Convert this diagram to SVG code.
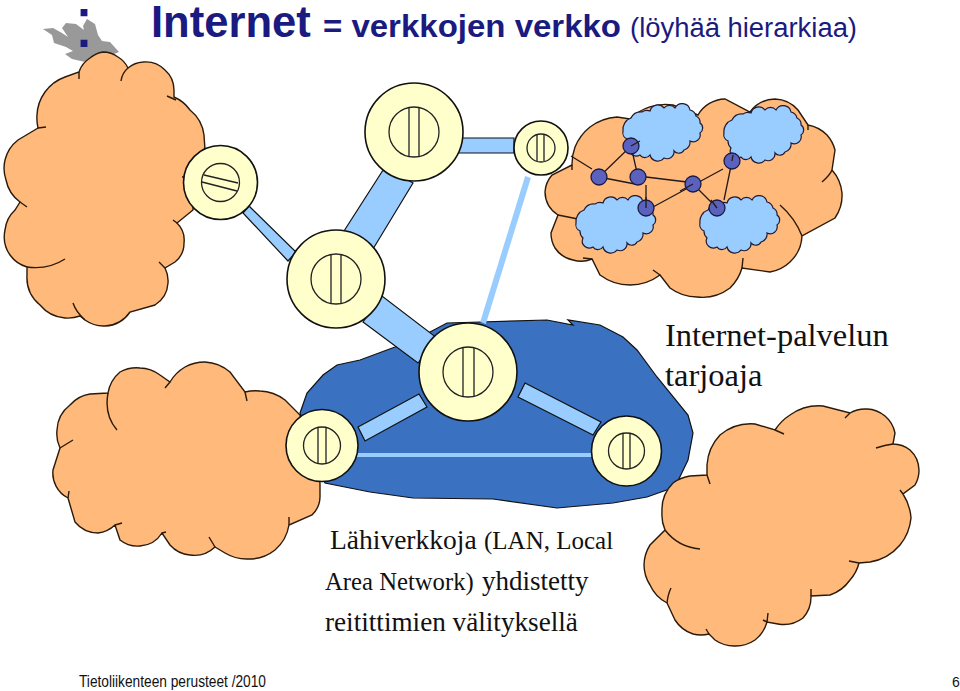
<svg xmlns="http://www.w3.org/2000/svg" width="960" height="691" viewBox="0 0 960 691">
<style>
.cloud{fill:#ffb97a;stroke:#2a1a0a;stroke-width:1.4}
.edge{fill:none;stroke:#2a1a0a;stroke-width:1.4}
.r{fill:#ffffcc;stroke:#111;stroke-width:1.6}
.ri{fill:#ffffcc;stroke:#222;stroke-width:1.3}
.bar{stroke:#222;stroke-width:1.3;fill:none}
.link{fill:#99ccff;stroke:#111;stroke-width:1.2}
.thin{stroke:#99ccff;fill:none}
.blue{fill:#99ccff;stroke:#221a33;stroke-width:1.2}
.dot{fill:#5a62bd;stroke:#1a1a44;stroke-width:1.3}
.net{stroke:#221a1a;stroke-width:1.3;fill:none}
.title{font-family:"Liberation Sans",Arial,sans-serif;fill:#1a1a80}
.label{font-family:"Liberation Serif","Times New Roman",serif;fill:#111}
.foot{font-family:"Liberation Sans",Arial,sans-serif;fill:#111}
</style>
<defs>
<path id="bc" d="M-39,-2 A12,12 0 0 1 -31,-15 A11,11 0 0 1 -20,-21 A9,9 0 0 1 -12,-22 A8,8 0 0 1 2,-25 A7,7 0 0 1 13,-25 A8,8 0 0 1 28,-23 A8,8 0 0 1 34,-17 A7,7 0 0 1 38,-10 A6,6 0 0 1 38,0 A7,7 0 0 1 28,8 A8,8 0 0 1 22,17 A6,6 0 0 1 12,18 A7,7 0 0 1 2,25 A8,8 0 0 1 -12,22 A6,6 0 0 1 -22,22 A7,7 0 0 1 -32,13 A9,9 0 0 1 -35,6 A7,7 0 0 1 -39,-2 Z"/>
</defs>
<rect width="960" height="691" fill="#fff"/>
<g id="logo">
<polygon fill="#999" points="43,29 53,28 62,33 68,37 62,28 66,23 76,24 84,30 83,26 87,19 95,24 98,35 102,41 110,42 119,52 100,60 85,62 72,59 65,54 73,51 66,47 54,43 52,35"/>
</g>
<text class="title" x="74" y="47" font-size="72">:</text>
<text class="title" x="151" y="37" font-size="43.6" font-weight="700">Internet</text>
<text class="title" x="323" y="37" font-size="31" font-weight="700" textLength="298" lengthAdjust="spacingAndGlyphs">= verkkojen verkko</text>
<text class="title" x="630" y="37" font-size="27" textLength="227" lengthAdjust="spacingAndGlyphs">(löyhää hierarkiaa)</text>

<g id="cloud-left-top">
<path class="cloud" d="M79,72 A26,26 0 0 1 90,58 A26,26 0 0 1 103,52 A26,26 0 0 1 118,57 A26,26 0 0 1 128,68 A27,27 0 0 1 143,62 A27,27 0 0 1 165,70 A27,27 0 0 1 174,90 L174,97 A38,38 0 0 1 190,110 A38,38 0 0 1 204,135 L205,150 A40,40 0 0 1 193,177 L193,210 L177,223 A24,24 0 0 1 184,243 A24,24 0 0 1 175,262 L165,268 A28,28 0 0 1 168,283 A28,28 0 0 1 155,305 L130,312 A32,32 0 0 1 105,326 A32,32 0 0 1 85,320 L80,316 A36,36 0 0 1 65,318 A36,36 0 0 1 40,305 A36,36 0 0 1 27,275 L27,267 A32,32 0 0 1 10,255 A32,32 0 0 1 5,230 A32,32 0 0 1 15,210 L20,202 A36,36 0 0 1 6,180 A36,36 0 0 1 5,160 A36,36 0 0 1 18,140 L38,128 A42,42 0 0 1 37,115 A42,42 0 0 1 45,92 A42,42 0 0 1 65,77 Z"/>
<path class="edge" d="M79,72 L79,79 M128,68 Q122,73 121,81 M167,96 L176,100 M193,177 L182,177 M177,223 L173,220 M159,262 L165,268 M73,303 Q76,312 85,320 M27,267 Q48,270 65,259 M20,202 L27,207 M38,128 L46,127"/>
</g>

<g id="cloud-left-bottom">
<path class="cloud" d="M60,448 A33,33 0 0 1 57,430 A33,33 0 0 1 70,405 A33,33 0 0 1 90,394 L108,393 A35,35 0 0 1 120,372 A35,35 0 0 1 140,368 A35,35 0 0 1 160,375 L170,382 A42,42 0 0 1 185,367 A42,42 0 0 1 205,362 A42,42 0 0 1 230,372 L245,392 A44,44 0 0 1 260,391 A44,44 0 0 1 285,400 L300,415 L320,483 L320,497 A26,26 0 0 1 312,515 L289,525 A42,42 0 0 1 275,550 A42,42 0 0 1 247,559 A42,42 0 0 1 225,553 L215,547 A30,30 0 0 1 190,555 A30,30 0 0 1 170,545 L162,533 A28,28 0 0 1 140,546 A28,28 0 0 1 120,540 L115,525 A30,30 0 0 1 98,533 A30,30 0 0 1 75,522 L68,498 A28,28 0 0 1 53,470 Z"/>
<path class="edge" d="M60,448 L73,440 M108,393 Q104,415 117,430 M170,382 L165,388 M245,392 L247,401 M289,525 L289,517 M209,537 L215,547 M162,533 L166,532 M115,525 L122,523 M68,498 L69,491"/>
</g>

<g id="lan">
<polygon fill="#3a72c1" stroke="#111" stroke-width="1.2" points="300,413 307,393 323,375 337,365 360,360 395,347 430,332 447,323 480,322 547,320 573,325 568,320 600,325 623,337 637,350 657,377 688,415 693,433 688,460 675,487 647,497 613,503 557,508 493,499 413,498 370,492 325,483"/>
</g>

<g id="cloud-right-bottom">
<path class="cloud" d="M707,475 L707,465 A48,48 0 0 1 720,435 A48,48 0 0 1 755,424 L775,430 A50,50 0 0 1 790,415 A50,50 0 0 1 823,406 L850,413 A30,30 0 0 1 867,409 A30,30 0 0 1 885,416 A30,30 0 0 1 895,433 L893,444 A28,28 0 0 1 910,450 A28,28 0 0 1 919,470 A28,28 0 0 1 915,485 L903,494 A50,50 0 0 1 911,518 A50,50 0 0 1 900,545 A50,50 0 0 1 870,562 L859,563 A40,40 0 0 1 850,580 A40,40 0 0 1 830,595 L811,596 A32,32 0 0 1 803,618 A32,32 0 0 1 778,624 L767,622 A34,34 0 0 1 755,640 A34,34 0 0 1 735,646 A34,34 0 0 1 715,640 L709,634 A34,34 0 0 1 693,634 A34,34 0 0 1 675,620 L667,603 A38,38 0 0 1 650,585 A38,38 0 0 1 644,565 A38,38 0 0 1 650,545 L665,530 A38,38 0 0 1 662,512 A38,38 0 0 1 673,483 A38,38 0 0 1 690,476 Z"/>
<path class="edge" d="M707,475 L710,484 M775,430 L784,434 M850,413 L845,418 M893,444 Q885,445 876,448 M903,494 L900,490 M859,563 L849,561 M811,596 L811,589 M767,622 L763,620 M767,622 L768,613 M706,629 L709,634 M667,603 Q668,594 671,588 M665,530 Q678,547 700,549"/>
</g>

<g id="cloud-right-top">
<path class="cloud" d="M572,165 A50,50 0 0 1 575,147 A50,50 0 0 1 590,127 A50,50 0 0 1 617,117 L630,119 A50,50 0 0 1 673,105 L698,115 A32,32 0 0 1 725,99 L750,112 A32,32 0 0 1 775,99 A32,32 0 0 1 798,110 L808,125 A36,36 0 0 1 827,135 A36,36 0 0 1 835,150 L832,170 A40,40 0 0 1 842,193 A40,40 0 0 1 835,218 L802,236 A38,38 0 0 1 790,262 A38,38 0 0 1 770,272 L742,268 A46,46 0 0 1 730,288 A46,46 0 0 1 697,297 A46,46 0 0 1 670,288 L660,275 A50,50 0 0 1 630,285 A50,50 0 0 1 600,275 L592,259 A28,28 0 0 1 573,260 A28,28 0 0 1 555,248 A28,28 0 0 1 551,233 L558,215 A28,28 0 0 1 545,192 A28,28 0 0 1 552,175 Z"/>
<path class="edge" d="M572,165 L572,170 M808,125 L808,130 M750,112 L747,113 M832,170 Q830,175 822,182 M802,236 Q795,218 780,205 M742,268 L743,258 M660,275 L653,270 M583,258 L592,259 M558,215 L578,219"/>
<use href="#bc" class="blue" x="662" y="133"/>
<use href="#bc" class="blue" x="763" y="135"/>
<use href="#bc" class="blue" x="615" y="225"/>
<use href="#bc" class="blue" x="739" y="225"/>
<path class="net" d="M571,156 L592,169 M599,177 L631,146 L638,177 M599,177 L635,184 M646,177 L687,182 M646,185 L646,208 M653,207 L723,169 M693,184 L717,208 M732,161 L724,200"/>
<circle class="dot" cx="631" cy="146" r="8"/>
<circle class="dot" cx="599" cy="177" r="8"/>
<circle class="dot" cx="638" cy="177" r="8"/>
<circle class="dot" cx="693" cy="184" r="8"/>
<circle class="dot" cx="732" cy="161" r="8"/>
<circle class="dot" cx="646" cy="208" r="8"/>
<circle class="dot" cx="717" cy="208" r="8"/>
<path class="net" d="M631,146 L640,141 M693,184 L680,191 M646,208 L646,197 M732,161 L733,155 M717,208 L711,200"/>
</g>

<g id="connectors">
<polygon class="link" points="243,213 249,206 296,252 288,261"/>
<polygon class="link" points="385,167 413,183 373,249 344,231"/>
<polygon class="link" points="458,138 514,138 514,153 458,153"/>
<polygon class="link" points="363,322 418,363 437,338 382,296"/>
<polygon class="link" points="358,427 419,394 427,407 365,441"/>
<polygon class="link" points="525,383 601,422 593,435 518,397"/>
<line class="thin" x1="357" y1="455" x2="592" y2="455" stroke-width="4"/>
<line class="thin" x1="528" y1="177" x2="483" y2="323" stroke-width="6"/>
</g>

<g id="router-1"><circle class="r" cx="220.500" cy="182.500" r="37"/><circle class="ri" cx="220.500" cy="182.500" r="19"/><path class="bar" d="M204,175 L238,183 M202,182 L237,191"/></g>
<g id="router-2"><circle class="r" cx="414" cy="132" r="49"/><circle class="ri" cx="414" cy="132" r="25"/><path class="bar" d="M409,108 V157 M419,108 V157"/></g>
<g id="router-3"><circle class="r" cx="541" cy="148" r="27"/><circle class="ri" cx="541" cy="148" r="14"/><path class="bar" d="M537,135 V161 M544,135 V161"/></g>
<g id="router-4"><circle class="r" cx="336" cy="279" r="49"/><circle class="ri" cx="336" cy="279" r="25"/><path class="bar" d="M331,255 V303 M341,255 V303"/></g>
<g id="router-5"><circle class="r" cx="468" cy="372" r="49"/><circle class="ri" cx="468" cy="372" r="25"/><path class="bar" d="M463,348 V397 M474,348 V397"/></g>
<g id="router-6"><circle class="r" cx="322" cy="445.500" r="36"/><circle class="ri" cx="322" cy="445.500" r="18.500"/><path class="bar" d="M318,427 V464 M326,427 V464"/></g>
<g id="router-7"><circle class="r" cx="626.500" cy="451" r="35"/><circle class="ri" cx="626.500" cy="451" r="18"/><path class="bar" d="M623,433 V469 M630,433 V469"/></g>

<text class="label" x="665" y="346" font-size="32.500">Internet-palvelun</text>
<text class="label" x="665" y="386" font-size="32.500">tarjoaja</text>
<text class="label" x="330" y="549" font-size="27.500">Lähiverkkoja</text>
<text class="label" x="484" y="549" font-size="25">(LAN, Local</text>
<text class="label" x="325" y="590" font-size="24.700">Area Network)</text>
<text class="label" x="482" y="590" font-size="27">yhdistetty</text>
<text class="label" x="325" y="631" font-size="27.200">reitittimien välityksellä</text>
<text class="foot" x="79" y="687" font-size="16" textLength="187" lengthAdjust="spacingAndGlyphs">Tietoliikenteen perusteet /2010</text>
<text class="foot" x="952" y="687" font-size="14">6</text>
</svg>
